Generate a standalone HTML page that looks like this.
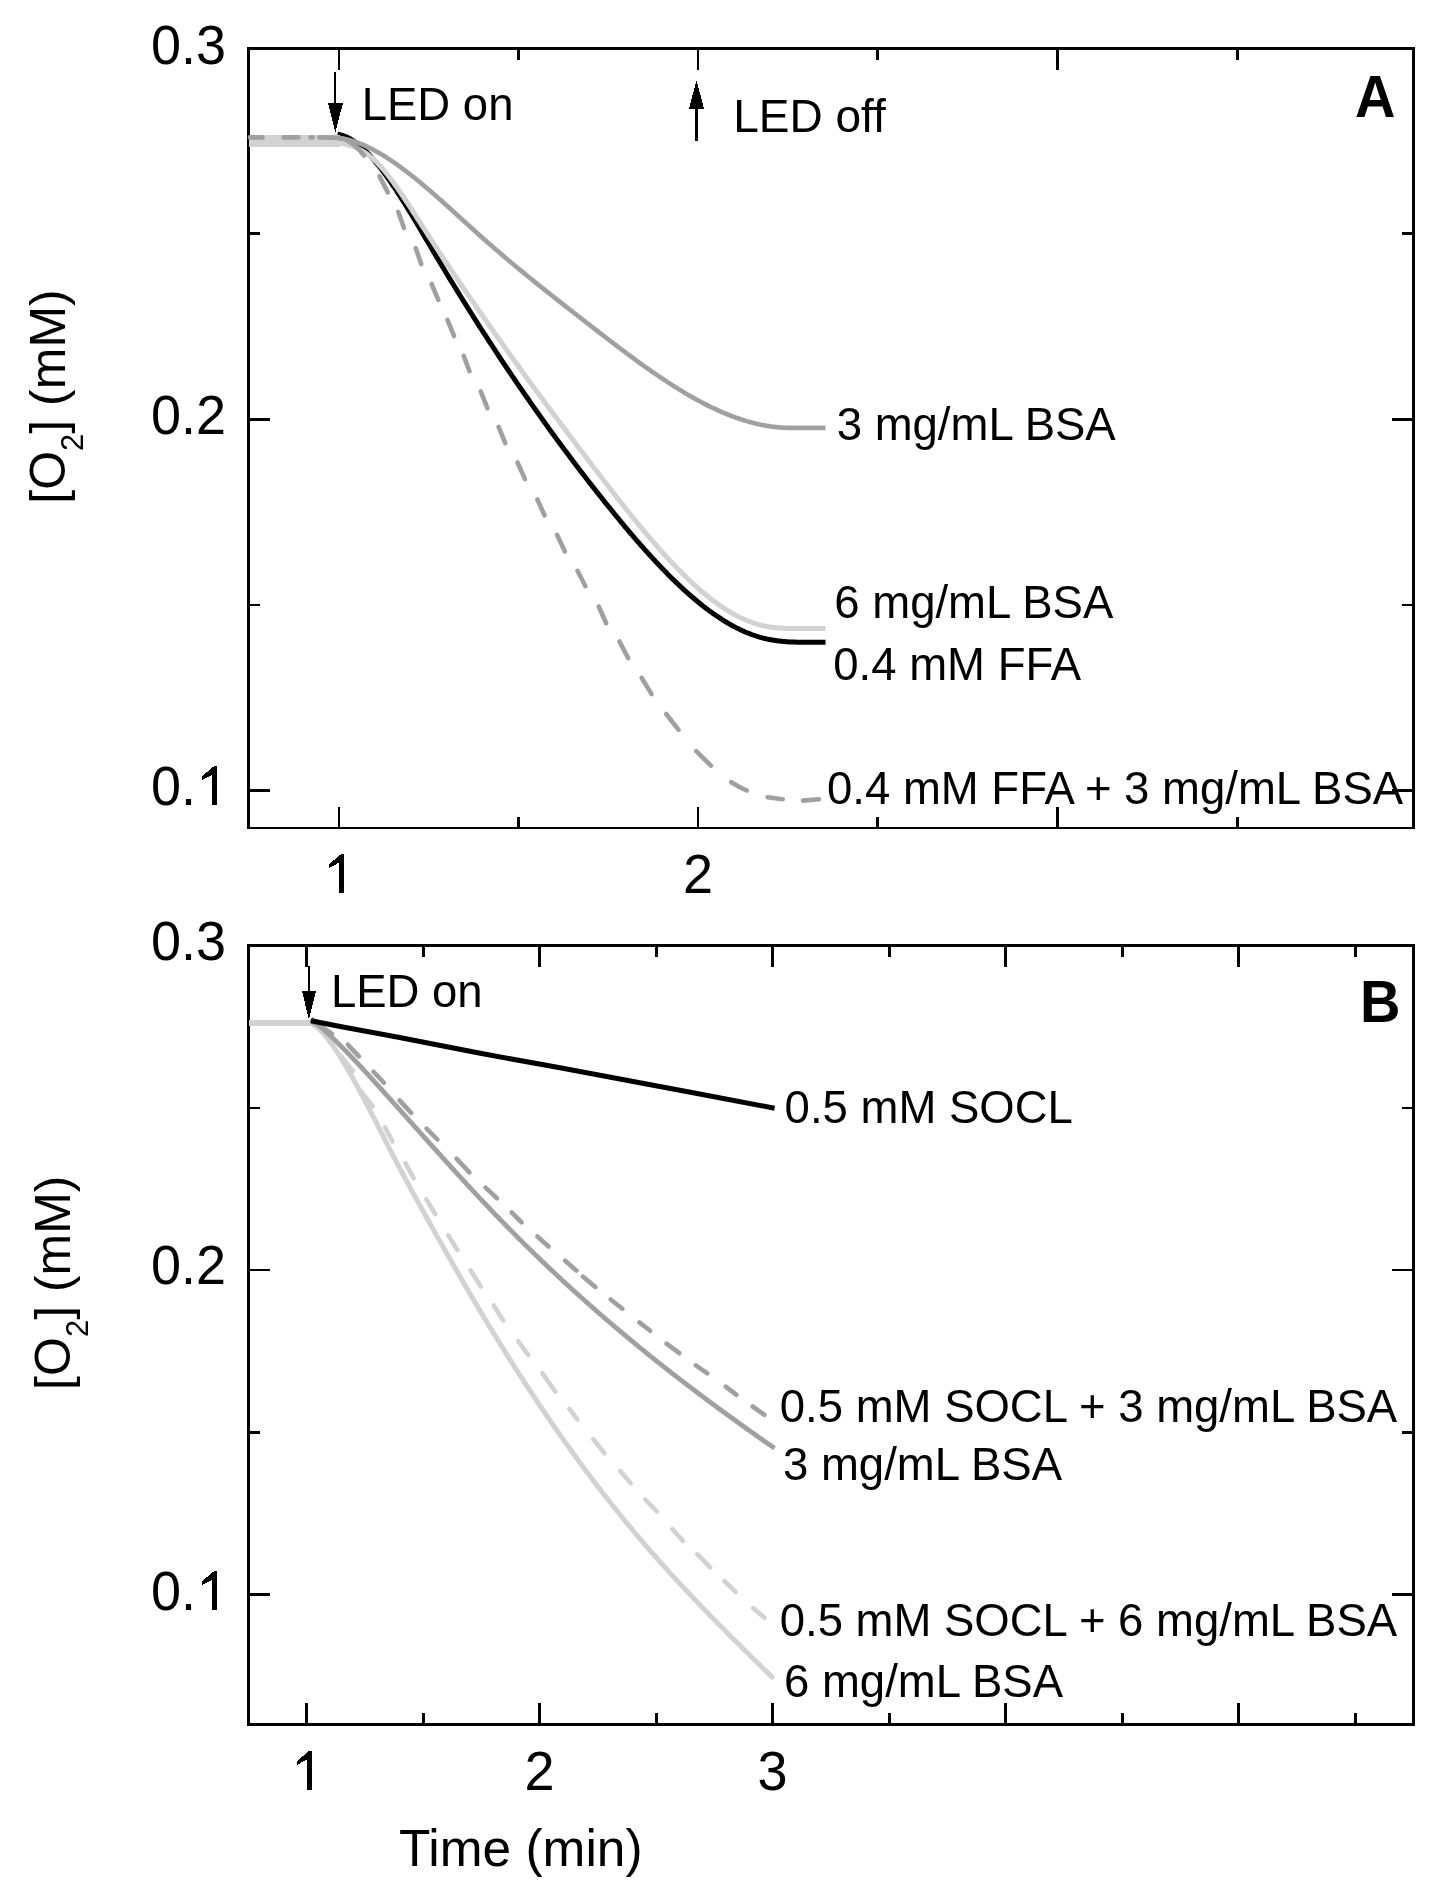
<!DOCTYPE html>
<html><head><meta charset="utf-8"><style>
html,body{margin:0;padding:0;background:#fff;}
svg{display:block;will-change:transform;}
line,rect,polygon{shape-rendering:crispEdges;}
text{font-family:"Liberation Sans", sans-serif;}
</style></head><body>
<svg width="1443" height="1898" viewBox="0 0 1443 1898">
<rect width="1443" height="1898" fill="#fff"/>
<line x1="248.5" y1="47.0" x2="248.5" y2="829.0" stroke="#000" stroke-width="3"/>
<line x1="1413.5" y1="47.0" x2="1413.5" y2="829.0" stroke="#000" stroke-width="3"/>
<line x1="247.0" y1="48.5" x2="1415.0" y2="48.5" stroke="#000" stroke-width="3"/>
<line x1="247.0" y1="828" x2="1415.0" y2="828" stroke="#000" stroke-width="2"/>
<line x1="248.5" y1="48.5" x2="270.0" y2="48.5" stroke="#000" stroke-width="3"/>
<line x1="1413.5" y1="48.5" x2="1392.0" y2="48.5" stroke="#000" stroke-width="3"/>
<line x1="248.5" y1="419.5" x2="270.0" y2="419.5" stroke="#000" stroke-width="3"/>
<line x1="1413.5" y1="419.5" x2="1392.0" y2="419.5" stroke="#000" stroke-width="3"/>
<line x1="248.5" y1="790.5" x2="270.0" y2="790.5" stroke="#000" stroke-width="3"/>
<line x1="1413.5" y1="790.5" x2="1392.0" y2="790.5" stroke="#000" stroke-width="3"/>
<line x1="248.5" y1="233.5" x2="260.0" y2="233.5" stroke="#000" stroke-width="3"/>
<line x1="1413.5" y1="233.5" x2="1402.0" y2="233.5" stroke="#000" stroke-width="3"/>
<line x1="248.5" y1="605" x2="260.0" y2="605" stroke="#000" stroke-width="2"/>
<line x1="1413.5" y1="605" x2="1402.0" y2="605" stroke="#000" stroke-width="2"/>
<line x1="339" y1="828" x2="339" y2="806.5" stroke="#000" stroke-width="2"/>
<line x1="339" y1="48.5" x2="339" y2="70.0" stroke="#000" stroke-width="2"/>
<line x1="698" y1="828" x2="698" y2="806.5" stroke="#000" stroke-width="2"/>
<line x1="698" y1="48.5" x2="698" y2="70.0" stroke="#000" stroke-width="2"/>
<line x1="1057.5" y1="828" x2="1057.5" y2="806.5" stroke="#000" stroke-width="3"/>
<line x1="1057.5" y1="48.5" x2="1057.5" y2="70.0" stroke="#000" stroke-width="3"/>
<line x1="518.5" y1="828" x2="518.5" y2="816.5" stroke="#000" stroke-width="3"/>
<line x1="518.5" y1="48.5" x2="518.5" y2="60.0" stroke="#000" stroke-width="3"/>
<line x1="877.5" y1="828" x2="877.5" y2="816.5" stroke="#000" stroke-width="3"/>
<line x1="877.5" y1="48.5" x2="877.5" y2="60.0" stroke="#000" stroke-width="3"/>
<line x1="1237.5" y1="828" x2="1237.5" y2="816.5" stroke="#000" stroke-width="3"/>
<line x1="1237.5" y1="48.5" x2="1237.5" y2="60.0" stroke="#000" stroke-width="3"/>
<line x1="248.5" y1="944.0" x2="248.5" y2="1726.0" stroke="#000" stroke-width="3"/>
<line x1="1413.5" y1="944.0" x2="1413.5" y2="1726.0" stroke="#000" stroke-width="3"/>
<line x1="247.0" y1="945.5" x2="1415.0" y2="945.5" stroke="#000" stroke-width="3"/>
<line x1="247.0" y1="1724.5" x2="1415.0" y2="1724.5" stroke="#000" stroke-width="3"/>
<line x1="248.5" y1="945.5" x2="270.0" y2="945.5" stroke="#000" stroke-width="3"/>
<line x1="1413.5" y1="945.5" x2="1392.0" y2="945.5" stroke="#000" stroke-width="3"/>
<line x1="248.5" y1="1270" x2="270.0" y2="1270" stroke="#000" stroke-width="2"/>
<line x1="1413.5" y1="1270" x2="1392.0" y2="1270" stroke="#000" stroke-width="2"/>
<line x1="248.5" y1="1594.5" x2="270.0" y2="1594.5" stroke="#000" stroke-width="3"/>
<line x1="1413.5" y1="1594.5" x2="1392.0" y2="1594.5" stroke="#000" stroke-width="3"/>
<line x1="248.5" y1="1108" x2="260.0" y2="1108" stroke="#000" stroke-width="2"/>
<line x1="1413.5" y1="1108" x2="1402.0" y2="1108" stroke="#000" stroke-width="2"/>
<line x1="248.5" y1="1432.5" x2="260.0" y2="1432.5" stroke="#000" stroke-width="3"/>
<line x1="1413.5" y1="1432.5" x2="1402.0" y2="1432.5" stroke="#000" stroke-width="3"/>
<line x1="306.5" y1="1724.5" x2="306.5" y2="1703.0" stroke="#000" stroke-width="3"/>
<line x1="306.5" y1="945.5" x2="306.5" y2="967.0" stroke="#000" stroke-width="3"/>
<line x1="539.5" y1="1724.5" x2="539.5" y2="1703.0" stroke="#000" stroke-width="3"/>
<line x1="539.5" y1="945.5" x2="539.5" y2="967.0" stroke="#000" stroke-width="3"/>
<line x1="772.5" y1="1724.5" x2="772.5" y2="1703.0" stroke="#000" stroke-width="3"/>
<line x1="772.5" y1="945.5" x2="772.5" y2="967.0" stroke="#000" stroke-width="3"/>
<line x1="1005.5" y1="1724.5" x2="1005.5" y2="1703.0" stroke="#000" stroke-width="3"/>
<line x1="1005.5" y1="945.5" x2="1005.5" y2="967.0" stroke="#000" stroke-width="3"/>
<line x1="1238.5" y1="1724.5" x2="1238.5" y2="1703.0" stroke="#000" stroke-width="3"/>
<line x1="1238.5" y1="945.5" x2="1238.5" y2="967.0" stroke="#000" stroke-width="3"/>
<line x1="423.0" y1="1724.5" x2="423.0" y2="1713.0" stroke="#000" stroke-width="3"/>
<line x1="423.0" y1="945.5" x2="423.0" y2="957.0" stroke="#000" stroke-width="3"/>
<line x1="656.0" y1="1724.5" x2="656.0" y2="1713.0" stroke="#000" stroke-width="3"/>
<line x1="656.0" y1="945.5" x2="656.0" y2="957.0" stroke="#000" stroke-width="3"/>
<line x1="889.0" y1="1724.5" x2="889.0" y2="1713.0" stroke="#000" stroke-width="3"/>
<line x1="889.0" y1="945.5" x2="889.0" y2="957.0" stroke="#000" stroke-width="3"/>
<line x1="1122.0" y1="1724.5" x2="1122.0" y2="1713.0" stroke="#000" stroke-width="3"/>
<line x1="1122.0" y1="945.5" x2="1122.0" y2="957.0" stroke="#000" stroke-width="3"/>
<line x1="1355.0" y1="1724.5" x2="1355.0" y2="1713.0" stroke="#000" stroke-width="3"/>
<line x1="1355.0" y1="945.5" x2="1355.0" y2="957.0" stroke="#000" stroke-width="3"/>
<path d="M337.5,134.1 L339.0,134.4 L340.5,134.8 L342.0,135.2 L343.5,135.7 L345.0,136.3 L346.5,136.9 L348.0,137.7 L349.5,138.5 L351.0,139.3 L352.5,140.3 L354.0,141.3 L355.5,142.3 L357.0,143.4 L358.5,144.6 L360.0,145.9 L361.5,147.2 L363.0,148.5 L364.5,149.9 L366.0,151.4 L367.5,152.9 L369.0,154.5 L370.5,156.1 L372.0,157.8 L373.5,159.5 L375.0,161.3 L376.5,163.1 L378.0,164.9 L379.5,166.8 L381.0,168.8 L382.5,170.7 L384.0,172.7 L385.5,174.8 L387.0,176.9 L388.5,179.0 L390.0,181.1 L391.5,183.3 L393.0,185.5 L394.5,187.7 L396.0,190.0 L397.5,192.3 L399.0,194.6 L400.5,196.9 L402.0,199.3 L403.5,201.6 L405.0,204.0 L406.5,206.5 L408.0,208.9 L409.5,211.3 L411.0,213.8 L412.5,216.3 L414.0,218.8 L415.5,221.3 L417.0,223.8 L418.5,226.3 L420.0,228.8 L421.5,231.3 L423.0,233.9 L424.5,236.4 L426.0,239.0 L427.5,241.5 L429.0,244.0 L430.5,246.6 L432.0,249.1 L433.5,251.6 L435.0,254.2 L436.5,256.7 L438.0,259.2 L439.5,261.7 L441.0,264.2 L442.5,266.7 L444.0,269.2 L445.5,271.7 L447.0,274.2 L448.5,276.6 L450.0,279.1 L451.5,281.6 L453.0,284.0 L454.5,286.5 L456.0,288.9 L457.5,291.3 L459.0,293.8 L460.5,296.2 L462.0,298.6 L463.5,301.0 L465.0,303.4 L466.5,305.8 L468.0,308.2 L469.5,310.6 L471.0,313.0 L472.5,315.3 L474.0,317.7 L475.5,320.1 L477.0,322.4 L478.5,324.8 L480.0,327.1 L481.5,329.5 L483.0,331.8 L484.5,334.1 L486.0,336.4 L487.5,338.7 L489.0,341.1 L490.5,343.4 L492.0,345.7 L493.5,347.9 L495.0,350.2 L496.5,352.5 L498.0,354.8 L499.5,357.0 L501.0,359.3 L502.5,361.6 L504.0,363.8 L505.5,366.0 L507.0,368.3 L508.5,370.5 L510.0,372.7 L511.5,375.0 L513.0,377.2 L514.5,379.4 L516.0,381.6 L517.5,383.8 L519.0,386.0 L520.5,388.2 L522.0,390.3 L523.5,392.5 L525.0,394.7 L526.5,396.8 L528.0,399.0 L529.5,401.1 L531.0,403.3 L532.5,405.4 L534.0,407.6 L535.5,409.7 L537.0,411.8 L538.5,413.9 L540.0,416.0 L541.5,418.1 L543.0,420.2 L544.5,422.3 L546.0,424.4 L547.5,426.5 L549.0,428.6 L550.5,430.7 L552.0,432.7 L553.5,434.8 L555.0,436.8 L556.5,438.9 L558.0,440.9 L559.5,443.0 L561.0,445.0 L562.5,447.0 L564.0,449.1 L565.5,451.1 L567.0,453.1 L568.5,455.1 L570.0,457.1 L571.5,459.1 L573.0,461.1 L574.5,463.0 L576.0,465.0 L577.5,467.0 L579.0,469.0 L580.5,470.9 L582.0,472.9 L583.5,474.8 L585.0,476.8 L586.5,478.7 L588.0,480.7 L589.5,482.6 L591.0,484.5 L592.5,486.4 L594.0,488.3 L595.5,490.2 L597.0,492.1 L598.5,494.0 L600.0,495.9 L601.5,497.8 L603.0,499.7 L604.5,501.6 L606.0,503.5 L607.5,505.3 L609.0,507.2 L610.5,509.0 L612.0,510.9 L613.5,512.7 L615.0,514.6 L616.5,516.4 L618.0,518.2 L619.5,520.0 L621.0,521.9 L622.5,523.7 L624.0,525.5 L625.5,527.3 L627.0,529.0 L628.5,530.8 L630.0,532.6 L631.5,534.4 L633.0,536.1 L634.5,537.9 L636.0,539.6 L637.5,541.3 L639.0,543.0 L640.5,544.8 L642.0,546.5 L643.5,548.2 L645.0,549.8 L646.5,551.5 L648.0,553.2 L649.5,554.8 L651.0,556.5 L652.5,558.1 L654.0,559.7 L655.5,561.4 L657.0,563.0 L658.5,564.6 L660.0,566.1 L661.5,567.7 L663.0,569.3 L664.5,570.8 L666.0,572.3 L667.5,573.9 L669.0,575.4 L670.5,576.9 L672.0,578.4 L673.5,579.8 L675.0,581.3 L676.5,582.7 L678.0,584.2 L679.5,585.6 L681.0,587.0 L682.5,588.4 L684.0,589.8 L685.5,591.1 L687.0,592.5 L688.5,593.8 L690.0,595.2 L691.5,596.5 L693.0,597.7 L694.5,599.0 L696.0,600.3 L697.5,601.5 L699.0,602.8 L700.5,604.0 L702.0,605.2 L703.5,606.4 L705.0,607.5 L706.5,608.7 L708.0,609.8 L709.5,610.9 L711.0,612.0 L712.5,613.1 L714.0,614.1 L715.5,615.2 L717.0,616.2 L718.5,617.2 L720.0,618.2 L721.5,619.2 L723.0,620.1 L724.5,621.1 L726.0,622.0 L727.5,622.9 L729.0,623.8 L730.5,624.6 L732.0,625.5 L733.5,626.3 L735.0,627.1 L736.5,627.9 L738.0,628.6 L739.5,629.3 L741.0,630.1 L742.5,630.8 L744.0,631.4 L745.5,632.1 L747.0,632.7 L748.5,633.3 L750.0,633.9 L751.5,634.5 L753.0,635.0 L754.5,635.5 L756.0,636.0 L757.5,636.5 L759.0,637.0 L760.5,637.4 L762.0,637.8 L763.5,638.2 L765.0,638.5 L766.5,638.9 L768.0,639.2 L769.5,639.5 L771.0,639.8 L772.5,640.1 L774.0,640.3 L775.5,640.5 L777.0,640.7 L778.5,640.9 L780.0,641.1 L781.5,641.3 L783.0,641.4 L784.5,641.5 L786.0,641.7 L787.5,641.8 L789.0,641.9 L790.5,641.9 L792.0,642.0 L793.5,642.1 L795.0,642.1 L796.5,642.2 L798.0,642.2 L799.5,642.2 L801.0,642.2 L802.5,642.3 L804.0,642.3 L805.5,642.3 L807.0,642.3 L808.5,642.3 L810.0,642.3 L811.5,642.3 L813.0,642.3 L814.5,642.3 L816.0,642.3 L817.5,642.3 L819.0,642.3 L820.5,642.3 L822.0,642.3 L823.5,642.3 L825.0,642.3 L825.5,642.3" stroke="#000" stroke-width="5" fill="none" stroke-linejoin="round"/>
<path d="M317.0,137.8 L318.5,137.8 L320.0,137.8 L321.5,137.8 L323.0,137.8 L324.5,137.8 L326.0,137.8 L327.5,137.8 L329.0,137.8 L330.5,137.8 L332.0,137.8 L333.5,137.8 L335.0,137.8 L336.5,137.8 L338.0,137.8 L339.5,137.9 L341.0,138.2 L342.5,138.4 L344.0,138.7 L345.5,139.0 L347.0,139.4 L348.5,139.8 L350.0,140.2 L351.5,140.6 L353.0,141.1 L354.5,141.6 L356.0,142.1 L357.5,142.6 L359.0,143.2 L360.5,143.8 L362.0,144.4 L363.5,145.0 L365.0,145.7 L366.5,146.4 L368.0,147.1 L369.5,147.8 L371.0,148.6 L372.5,149.3 L374.0,150.1 L375.5,151.0 L377.0,151.8 L378.5,152.6 L380.0,153.5 L381.5,154.4 L383.0,155.3 L384.5,156.2 L386.0,157.2 L387.5,158.1 L389.0,159.1 L390.5,160.1 L392.0,161.1 L393.5,162.1 L395.0,163.2 L396.5,164.2 L398.0,165.3 L399.5,166.4 L401.0,167.5 L402.5,168.6 L404.0,169.7 L405.5,170.8 L407.0,172.0 L408.5,173.1 L410.0,174.3 L411.5,175.5 L413.0,176.6 L414.5,177.8 L416.0,179.0 L417.5,180.3 L419.0,181.5 L420.5,182.7 L422.0,184.0 L423.5,185.2 L425.0,186.5 L426.5,187.8 L428.0,189.0 L429.5,190.3 L431.0,191.6 L432.5,192.9 L434.0,194.2 L435.5,195.5 L437.0,196.9 L438.5,198.2 L440.0,199.5 L441.5,200.8 L443.0,202.2 L444.5,203.5 L446.0,204.9 L447.5,206.2 L449.0,207.6 L450.5,208.9 L452.0,210.3 L453.5,211.6 L455.0,213.0 L456.5,214.4 L458.0,215.7 L459.5,217.1 L461.0,218.4 L462.5,219.8 L464.0,221.2 L465.5,222.5 L467.0,223.9 L468.5,225.3 L470.0,226.6 L471.5,228.0 L473.0,229.3 L474.5,230.7 L476.0,232.0 L477.5,233.4 L479.0,234.7 L480.5,236.1 L482.0,237.4 L483.5,238.7 L485.0,240.1 L486.5,241.4 L488.0,242.7 L489.5,244.0 L491.0,245.3 L492.5,246.6 L494.0,247.9 L495.5,249.2 L497.0,250.5 L498.5,251.8 L500.0,253.1 L501.5,254.4 L503.0,255.6 L504.5,256.9 L506.0,258.2 L507.5,259.4 L509.0,260.7 L510.5,262.0 L512.0,263.2 L513.5,264.5 L515.0,265.7 L516.5,267.0 L518.0,268.2 L519.5,269.4 L521.0,270.7 L522.5,271.9 L524.0,273.1 L525.5,274.4 L527.0,275.6 L528.5,276.8 L530.0,278.0 L531.5,279.2 L533.0,280.4 L534.5,281.7 L536.0,282.9 L537.5,284.1 L539.0,285.3 L540.5,286.5 L542.0,287.7 L543.5,288.9 L545.0,290.1 L546.5,291.3 L548.0,292.4 L549.5,293.6 L551.0,294.8 L552.5,296.0 L554.0,297.2 L555.5,298.4 L557.0,299.6 L558.5,300.7 L560.0,301.9 L561.5,303.1 L563.0,304.3 L564.5,305.4 L566.0,306.6 L567.5,307.8 L569.0,309.0 L570.5,310.1 L572.0,311.3 L573.5,312.5 L575.0,313.6 L576.5,314.8 L578.0,316.0 L579.5,317.1 L581.0,318.3 L582.5,319.5 L584.0,320.6 L585.5,321.8 L587.0,323.0 L588.5,324.1 L590.0,325.3 L591.5,326.5 L593.0,327.6 L594.5,328.8 L596.0,329.9 L597.5,331.1 L599.0,332.3 L600.5,333.4 L602.0,334.6 L603.5,335.7 L605.0,336.9 L606.5,338.0 L608.0,339.2 L609.5,340.3 L611.0,341.5 L612.5,342.6 L614.0,343.8 L615.5,344.9 L617.0,346.1 L618.5,347.2 L620.0,348.3 L621.5,349.5 L623.0,350.6 L624.5,351.7 L626.0,352.8 L627.5,354.0 L629.0,355.1 L630.5,356.2 L632.0,357.3 L633.5,358.4 L635.0,359.5 L636.5,360.6 L638.0,361.7 L639.5,362.8 L641.0,363.8 L642.5,364.9 L644.0,366.0 L645.5,367.1 L647.0,368.1 L648.5,369.2 L650.0,370.2 L651.5,371.3 L653.0,372.3 L654.5,373.4 L656.0,374.4 L657.5,375.4 L659.0,376.4 L660.5,377.4 L662.0,378.4 L663.5,379.4 L665.0,380.4 L666.5,381.4 L668.0,382.4 L669.5,383.4 L671.0,384.3 L672.5,385.3 L674.0,386.3 L675.5,387.2 L677.0,388.1 L678.5,389.1 L680.0,390.0 L681.5,390.9 L683.0,391.8 L684.5,392.7 L686.0,393.6 L687.5,394.5 L689.0,395.3 L690.5,396.2 L692.0,397.1 L693.5,397.9 L695.0,398.7 L696.5,399.6 L698.0,400.4 L699.5,401.2 L701.0,402.0 L702.5,402.8 L704.0,403.6 L705.5,404.3 L707.0,405.1 L708.5,405.8 L710.0,406.6 L711.5,407.3 L713.0,408.0 L714.5,408.7 L716.0,409.4 L717.5,410.1 L719.0,410.8 L720.5,411.5 L722.0,412.1 L723.5,412.8 L725.0,413.4 L726.5,414.0 L728.0,414.6 L729.5,415.2 L731.0,415.8 L732.5,416.4 L734.0,416.9 L735.5,417.5 L737.0,418.0 L738.5,418.5 L740.0,419.0 L741.5,419.5 L743.0,420.0 L744.5,420.5 L746.0,420.9 L747.5,421.4 L749.0,421.8 L750.5,422.2 L752.0,422.6 L753.5,423.0 L755.0,423.4 L756.5,423.8 L758.0,424.1 L759.5,424.4 L761.0,424.8 L762.5,425.1 L764.0,425.3 L765.5,425.6 L767.0,425.9 L768.5,426.1 L770.0,426.3 L771.5,426.6 L773.0,426.8 L774.5,426.9 L776.0,427.1 L777.5,427.3 L779.0,427.4 L780.5,427.5 L782.0,427.6 L783.5,427.7 L785.0,427.8 L786.5,427.8 L788.0,427.9 L789.5,427.9 L791.0,427.9 L792.5,427.9 L794.0,427.9 L795.5,427.9 L797.0,427.9 L798.5,427.9 L800.0,427.9 L801.5,427.9 L803.0,427.9 L804.5,427.9 L806.0,427.9 L807.5,427.9 L809.0,427.9 L810.5,427.9 L812.0,427.9 L813.5,427.9 L815.0,427.9 L816.5,427.9 L818.0,427.9 L819.5,427.9 L821.0,427.9 L822.5,427.9 L824.0,427.9 L825.5,427.9" stroke="#a0a0a0" stroke-width="4.6" fill="none" stroke-linejoin="round"/>
<rect x="249" y="135" width="91" height="12" fill="#d2d2d2"/>
<path d="M338.0,142.9 L339.5,143.1 L341.0,143.3 L342.5,143.6 L344.0,143.9 L345.5,144.2 L347.0,144.6 L348.5,145.0 L350.0,145.5 L351.5,146.0 L353.0,146.5 L354.5,147.1 L356.0,147.7 L357.5,148.4 L359.0,149.1 L360.5,149.9 L362.0,150.7 L363.5,151.6 L365.0,152.6 L366.5,153.6 L368.0,154.7 L369.5,155.9 L371.0,157.1 L372.5,158.4 L374.0,159.7 L375.5,161.1 L377.0,162.6 L378.5,164.2 L380.0,165.8 L381.5,167.5 L383.0,169.2 L384.5,171.0 L386.0,172.8 L387.5,174.7 L389.0,176.6 L390.5,178.5 L392.0,180.6 L393.5,182.6 L395.0,184.7 L396.5,186.8 L398.0,188.9 L399.5,191.1 L401.0,193.3 L402.5,195.5 L404.0,197.8 L405.5,200.0 L407.0,202.3 L408.5,204.6 L410.0,206.9 L411.5,209.2 L413.0,211.6 L414.5,213.9 L416.0,216.2 L417.5,218.6 L419.0,220.9 L420.5,223.2 L422.0,225.6 L423.5,227.9 L425.0,230.2 L426.5,232.5 L428.0,234.8 L429.5,237.1 L431.0,239.4 L432.5,241.7 L434.0,244.0 L435.5,246.3 L437.0,248.6 L438.5,250.8 L440.0,253.1 L441.5,255.4 L443.0,257.6 L444.5,259.9 L446.0,262.1 L447.5,264.4 L449.0,266.6 L450.5,268.9 L452.0,271.1 L453.5,273.3 L455.0,275.6 L456.5,277.8 L458.0,280.0 L459.5,282.2 L461.0,284.4 L462.5,286.6 L464.0,288.8 L465.5,291.0 L467.0,293.2 L468.5,295.4 L470.0,297.6 L471.5,299.8 L473.0,302.0 L474.5,304.2 L476.0,306.3 L477.5,308.5 L479.0,310.7 L480.5,312.8 L482.0,315.0 L483.5,317.1 L485.0,319.3 L486.5,321.4 L488.0,323.6 L489.5,325.7 L491.0,327.9 L492.5,330.0 L494.0,332.1 L495.5,334.2 L497.0,336.4 L498.5,338.5 L500.0,340.6 L501.5,342.7 L503.0,344.8 L504.5,346.9 L506.0,349.0 L507.5,351.1 L509.0,353.2 L510.5,355.3 L512.0,357.4 L513.5,359.5 L515.0,361.6 L516.5,363.7 L518.0,365.7 L519.5,367.8 L521.0,369.9 L522.5,371.9 L524.0,374.0 L525.5,376.1 L527.0,378.1 L528.5,380.2 L530.0,382.3 L531.5,384.3 L533.0,386.4 L534.5,388.4 L536.0,390.4 L537.5,392.5 L539.0,394.5 L540.5,396.6 L542.0,398.6 L543.5,400.6 L545.0,402.7 L546.5,404.7 L548.0,406.7 L549.5,408.7 L551.0,410.7 L552.5,412.8 L554.0,414.8 L555.5,416.8 L557.0,418.8 L558.5,420.8 L560.0,422.8 L561.5,424.8 L563.0,426.8 L564.5,428.8 L566.0,430.8 L567.5,432.8 L569.0,434.8 L570.5,436.8 L572.0,438.8 L573.5,440.7 L575.0,442.7 L576.5,444.7 L578.0,446.7 L579.5,448.7 L581.0,450.6 L582.5,452.6 L584.0,454.6 L585.5,456.6 L587.0,458.5 L588.5,460.5 L590.0,462.5 L591.5,464.4 L593.0,466.4 L594.5,468.4 L596.0,470.3 L597.5,472.3 L599.0,474.2 L600.5,476.2 L602.0,478.1 L603.5,480.1 L605.0,482.0 L606.5,484.0 L608.0,485.9 L609.5,487.9 L611.0,489.8 L612.5,491.7 L614.0,493.7 L615.5,495.6 L617.0,497.5 L618.5,499.4 L620.0,501.3 L621.5,503.2 L623.0,505.1 L624.5,507.0 L626.0,508.9 L627.5,510.8 L629.0,512.7 L630.5,514.5 L632.0,516.4 L633.5,518.3 L635.0,520.1 L636.5,522.0 L638.0,523.8 L639.5,525.6 L641.0,527.4 L642.5,529.3 L644.0,531.1 L645.5,532.9 L647.0,534.6 L648.5,536.4 L650.0,538.2 L651.5,539.9 L653.0,541.7 L654.5,543.4 L656.0,545.1 L657.5,546.9 L659.0,548.6 L660.5,550.2 L662.0,551.9 L663.5,553.6 L665.0,555.3 L666.5,556.9 L668.0,558.5 L669.5,560.1 L671.0,561.7 L672.5,563.3 L674.0,564.9 L675.5,566.5 L677.0,568.0 L678.5,569.6 L680.0,571.1 L681.5,572.6 L683.0,574.1 L684.5,575.6 L686.0,577.0 L687.5,578.5 L689.0,579.9 L690.5,581.3 L692.0,582.7 L693.5,584.1 L695.0,585.5 L696.5,586.8 L698.0,588.2 L699.5,589.5 L701.0,590.8 L702.5,592.0 L704.0,593.3 L705.5,594.5 L707.0,595.8 L708.5,597.0 L710.0,598.2 L711.5,599.3 L713.0,600.5 L714.5,601.6 L716.0,602.7 L717.5,603.8 L719.0,604.8 L720.5,605.9 L722.0,606.9 L723.5,607.9 L725.0,608.9 L726.5,609.8 L728.0,610.8 L729.5,611.7 L731.0,612.6 L732.5,613.4 L734.0,614.3 L735.5,615.1 L737.0,615.9 L738.5,616.7 L740.0,617.4 L741.5,618.1 L743.0,618.8 L744.5,619.5 L746.0,620.2 L747.5,620.8 L749.0,621.4 L750.5,621.9 L752.0,622.5 L753.5,623.0 L755.0,623.5 L756.5,624.0 L758.0,624.4 L759.5,624.8 L761.0,625.2 L762.5,625.6 L764.0,625.9 L765.5,626.2 L767.0,626.5 L768.5,626.7 L770.0,627.0 L771.5,627.2 L773.0,627.4 L774.5,627.6 L776.0,627.7 L777.5,627.9 L779.0,628.0 L780.5,628.1 L782.0,628.2 L783.5,628.3 L785.0,628.3 L786.5,628.4 L788.0,628.4 L789.5,628.5 L791.0,628.5 L792.5,628.5 L794.0,628.5 L795.5,628.5 L797.0,628.5 L798.5,628.5 L800.0,628.5 L801.5,628.5 L803.0,628.5 L804.5,628.5 L806.0,628.5 L807.5,628.5 L809.0,628.5 L810.5,628.5 L812.0,628.5 L813.5,628.5 L815.0,628.5 L816.5,628.5 L818.0,628.5 L819.5,628.5 L821.0,628.5 L822.5,628.5 L824.0,628.5 L825.5,628.5" stroke="#d2d2d2" stroke-width="5" fill="none" stroke-linejoin="round"/>
<path d="M250.0,137.4 L262.5,137.4" stroke="#a0a0a0" stroke-width="4.6" fill="none" stroke-linecap="round" stroke-linejoin="round"/>
<path d="M283.5,137.4 L298.5,137.4" stroke="#a0a0a0" stroke-width="4.6" fill="none" stroke-linecap="round" stroke-linejoin="round"/>
<path d="M310.5,137.4 L312.5,137.4" stroke="#a0a0a0" stroke-width="4.6" fill="none" stroke-linecap="round" stroke-linejoin="round"/>
<path d="M319.5,137.4 L335.0,137.6 L345.0,139.2 L353.0,144.0 L359.5,150.0 L364.0,155.5" stroke="#a0a0a0" stroke-width="4.6" fill="none" stroke-linecap="round" stroke-linejoin="round"/>
<path d="M379.5,176.4 L387.8,192.4" stroke="#a0a0a0" stroke-width="4.6" fill="none" stroke-linecap="round" stroke-linejoin="round"/>
<path d="M398.3,212.0 L404.0,228.0" stroke="#a0a0a0" stroke-width="4.6" fill="none" stroke-linecap="round" stroke-linejoin="round"/>
<path d="M415.8,248.3 L421.2,264.1" stroke="#a0a0a0" stroke-width="4.6" fill="none" stroke-linecap="round" stroke-linejoin="round"/>
<path d="M431.6,284.0 L438.3,299.8" stroke="#a0a0a0" stroke-width="4.6" fill="none" stroke-linecap="round" stroke-linejoin="round"/>
<path d="M447.4,319.8 L454.1,336.0" stroke="#a0a0a0" stroke-width="4.6" fill="none" stroke-linecap="round" stroke-linejoin="round"/>
<path d="M463.7,355.8 L469.5,371.2" stroke="#a0a0a0" stroke-width="4.6" fill="none" stroke-linecap="round" stroke-linejoin="round"/>
<path d="M480.8,391.5 L487.4,408.2" stroke="#a0a0a0" stroke-width="4.6" fill="none" stroke-linecap="round" stroke-linejoin="round"/>
<path d="M498.6,426.9 L505.3,443.1" stroke="#a0a0a0" stroke-width="4.6" fill="none" stroke-linecap="round" stroke-linejoin="round"/>
<path d="M517.5,462.5 L525.0,479.1" stroke="#a0a0a0" stroke-width="4.6" fill="none" stroke-linecap="round" stroke-linejoin="round"/>
<path d="M537.4,499.5 L544.5,515.3" stroke="#a0a0a0" stroke-width="4.6" fill="none" stroke-linecap="round" stroke-linejoin="round"/>
<path d="M557.0,534.8 L564.9,551.4" stroke="#a0a0a0" stroke-width="4.6" fill="none" stroke-linecap="round" stroke-linejoin="round"/>
<path d="M577.5,570.8 L585.4,586.2" stroke="#a0a0a0" stroke-width="4.6" fill="none" stroke-linecap="round" stroke-linejoin="round"/>
<path d="M598.7,606.5 L606.2,623.2" stroke="#a0a0a0" stroke-width="4.6" fill="none" stroke-linecap="round" stroke-linejoin="round"/>
<path d="M619.5,641.5 L628.2,658.1" stroke="#a0a0a0" stroke-width="4.6" fill="none" stroke-linecap="round" stroke-linejoin="round"/>
<path d="M641.6,677.8 L651.6,694.1" stroke="#a0a0a0" stroke-width="4.6" fill="none" stroke-linecap="round" stroke-linejoin="round"/>
<path d="M666.2,714.0 L678.6,729.8" stroke="#a0a0a0" stroke-width="4.6" fill="none" stroke-linecap="round" stroke-linejoin="round"/>
<path d="M696.3,751.2 L710.9,765.7" stroke="#a0a0a0" stroke-width="4.6" fill="none" stroke-linecap="round" stroke-linejoin="round"/>
<path d="M731.2,782.2 L739.0,786.8 L746.8,790.5" stroke="#a0a0a0" stroke-width="4.6" fill="none" stroke-linecap="round" stroke-linejoin="round"/>
<path d="M767.6,797.2 L782.7,799.2" stroke="#a0a0a0" stroke-width="4.6" fill="none" stroke-linecap="round" stroke-linejoin="round"/>
<path d="M803.0,800.6 L819.0,799.2" stroke="#a0a0a0" stroke-width="4.6" fill="none" stroke-linecap="round" stroke-linejoin="round"/>
<rect x="249" y="1020" width="62" height="6" fill="#d2d2d2"/>
<path d="M300.0,1022.9 L301.5,1022.9 L303.0,1022.9 L304.5,1022.9 L306.0,1022.9 L307.5,1022.9 L309.0,1022.9 L310.5,1023.4 L312.0,1024.1 L313.5,1024.9 L315.0,1025.9 L316.5,1027.0 L318.0,1028.2 L319.5,1029.5 L321.0,1031.0 L322.5,1032.5 L324.0,1034.2 L325.5,1035.9 L327.0,1037.7 L328.5,1039.7 L330.0,1041.7 L331.5,1043.7 L333.0,1045.9 L334.5,1048.0 L336.0,1050.3 L337.5,1052.6 L339.0,1054.9 L340.5,1057.3 L342.0,1059.7 L343.5,1062.2 L345.0,1064.7 L346.5,1067.2 L348.0,1069.8 L349.5,1072.4 L351.0,1075.0 L352.5,1077.7 L354.0,1080.4 L355.5,1083.1 L357.0,1085.8 L358.5,1088.6 L360.0,1091.4 L361.5,1094.2 L363.0,1097.0 L364.5,1099.9 L366.0,1102.8 L367.5,1105.6 L369.0,1108.5 L370.5,1111.4 L372.0,1114.4 L373.5,1117.3 L375.0,1120.2 L376.5,1123.1 L378.0,1126.1 L379.5,1129.0 L381.0,1132.0 L382.5,1134.9 L384.0,1137.9 L385.5,1140.8 L387.0,1143.8 L388.5,1146.7 L390.0,1149.6 L391.5,1152.5 L393.0,1155.4 L394.5,1158.3 L396.0,1161.2 L397.5,1164.1 L399.0,1166.9 L400.5,1169.7 L402.0,1172.5 L403.5,1175.3 L405.0,1178.1 L406.5,1180.9 L408.0,1183.7 L409.5,1186.4 L411.0,1189.2 L412.5,1192.0 L414.0,1194.7 L415.5,1197.4 L417.0,1200.2 L418.5,1202.9 L420.0,1205.6 L421.5,1208.3 L423.0,1211.0 L424.5,1213.8 L426.0,1216.5 L427.5,1219.2 L429.0,1221.8 L430.5,1224.5 L432.0,1227.2 L433.5,1229.9 L435.0,1232.6 L436.5,1235.3 L438.0,1237.9 L439.5,1240.6 L441.0,1243.2 L442.5,1245.9 L444.0,1248.5 L445.5,1251.2 L447.0,1253.8 L448.5,1256.5 L450.0,1259.1 L451.5,1261.7 L453.0,1264.4 L454.5,1267.0 L456.0,1269.6 L457.5,1272.2 L459.0,1274.8 L460.5,1277.4 L462.0,1280.0 L463.5,1282.6 L465.0,1285.2 L466.5,1287.8 L468.0,1290.3 L469.5,1292.9 L471.0,1295.5 L472.5,1298.0 L474.0,1300.6 L475.5,1303.1 L477.0,1305.6 L478.5,1308.2 L480.0,1310.7 L481.5,1313.2 L483.0,1315.7 L484.5,1318.2 L486.0,1320.7 L487.5,1323.2 L489.0,1325.7 L490.5,1328.2 L492.0,1330.6 L493.5,1333.1 L495.0,1335.5 L496.5,1338.0 L498.0,1340.4 L499.5,1342.8 L501.0,1345.3 L502.5,1347.7 L504.0,1350.1 L505.5,1352.5 L507.0,1354.9 L508.5,1357.3 L510.0,1359.7 L511.5,1362.0 L513.0,1364.4 L514.5,1366.7 L516.0,1369.1 L517.5,1371.4 L519.0,1373.8 L520.5,1376.1 L522.0,1378.4 L523.5,1380.7 L525.0,1383.1 L526.5,1385.4 L528.0,1387.6 L529.5,1389.9 L531.0,1392.2 L532.5,1394.5 L534.0,1396.7 L535.5,1399.0 L537.0,1401.3 L538.5,1403.5 L540.0,1405.7 L541.5,1408.0 L543.0,1410.2 L544.5,1412.4 L546.0,1414.6 L547.5,1416.8 L549.0,1419.0 L550.5,1421.2 L552.0,1423.4 L553.5,1425.5 L555.0,1427.7 L556.5,1429.8 L558.0,1432.0 L559.5,1434.1 L561.0,1436.3 L562.5,1438.4 L564.0,1440.5 L565.5,1442.6 L567.0,1444.7 L568.5,1446.8 L570.0,1448.9 L571.5,1451.0 L573.0,1453.1 L574.5,1455.2 L576.0,1457.2 L577.5,1459.3 L579.0,1461.4 L580.5,1463.4 L582.0,1465.4 L583.5,1467.5 L585.0,1469.5 L586.5,1471.5 L588.0,1473.5 L589.5,1475.5 L591.0,1477.5 L592.5,1479.5 L594.0,1481.5 L595.5,1483.4 L597.0,1485.4 L598.5,1487.4 L600.0,1489.3 L601.5,1491.3 L603.0,1493.2 L604.5,1495.1 L606.0,1497.0 L607.5,1499.0 L609.0,1500.9 L610.5,1502.8 L612.0,1504.7 L613.5,1506.6 L615.0,1508.4 L616.5,1510.3 L618.0,1512.2 L619.5,1514.0 L621.0,1515.9 L622.5,1517.7 L624.0,1519.6 L625.5,1521.4 L627.0,1523.2 L628.5,1525.1 L630.0,1526.9 L631.5,1528.7 L633.0,1530.5 L634.5,1532.3 L636.0,1534.0 L637.5,1535.8 L639.0,1537.6 L640.5,1539.4 L642.0,1541.1 L643.5,1542.9 L645.0,1544.6 L646.5,1546.4 L648.0,1548.1 L649.5,1549.8 L651.0,1551.6 L652.5,1553.3 L654.0,1555.0 L655.5,1556.7 L657.0,1558.4 L658.5,1560.1 L660.0,1561.8 L661.5,1563.5 L663.0,1565.1 L664.5,1566.8 L666.0,1568.5 L667.5,1570.1 L669.0,1571.8 L670.5,1573.5 L672.0,1575.1 L673.5,1576.7 L675.0,1578.4 L676.5,1580.0 L678.0,1581.6 L679.5,1583.3 L681.0,1584.9 L682.5,1586.5 L684.0,1588.1 L685.5,1589.7 L687.0,1591.3 L688.5,1592.9 L690.0,1594.5 L691.5,1596.1 L693.0,1597.7 L694.5,1599.3 L696.0,1600.8 L697.5,1602.4 L699.0,1604.0 L700.5,1605.5 L702.0,1607.1 L703.5,1608.7 L705.0,1610.2 L706.5,1611.8 L708.0,1613.3 L709.5,1614.9 L711.0,1616.4 L712.5,1617.9 L714.0,1619.5 L715.5,1621.0 L717.0,1622.5 L718.5,1624.1 L720.0,1625.6 L721.5,1627.1 L723.0,1628.6 L724.5,1630.1 L726.0,1631.6 L727.5,1633.1 L729.0,1634.6 L730.5,1636.2 L732.0,1637.7 L733.5,1639.1 L735.0,1640.6 L736.5,1642.1 L738.0,1643.6 L739.5,1645.1 L741.0,1646.6 L742.5,1648.1 L744.0,1649.6 L745.5,1651.0 L747.0,1652.5 L748.5,1654.0 L750.0,1655.5 L751.5,1657.0 L753.0,1658.4 L754.5,1659.9 L756.0,1661.4 L757.5,1662.8 L759.0,1664.3 L760.5,1665.8 L762.0,1667.2 L763.5,1668.7 L765.0,1670.2 L766.5,1671.6 L768.0,1673.1 L769.5,1674.5 L771.0,1676.0 L772.1,1677.1" stroke="#d2d2d2" stroke-width="5" fill="none" stroke-linejoin="round" stroke-linecap="round"/>
<path d="M340.2,1055.0 L352.7,1071.0" stroke="#d2d2d2" stroke-width="4.6" fill="none" stroke-linecap="round" stroke-linejoin="round"/>
<path d="M361.0,1091.1 L372.8,1106.3" stroke="#d2d2d2" stroke-width="4.6" fill="none" stroke-linecap="round" stroke-linejoin="round"/>
<path d="M385.0,1127.4 L392.5,1141.5" stroke="#d2d2d2" stroke-width="4.6" fill="none" stroke-linecap="round" stroke-linejoin="round"/>
<path d="M405.4,1163.2 L413.7,1178.1" stroke="#d2d2d2" stroke-width="4.6" fill="none" stroke-linecap="round" stroke-linejoin="round"/>
<path d="M426.2,1199.1 L435.3,1214.1" stroke="#d2d2d2" stroke-width="4.6" fill="none" stroke-linecap="round" stroke-linejoin="round"/>
<path d="M448.2,1235.3 L457.4,1249.9" stroke="#d2d2d2" stroke-width="4.6" fill="none" stroke-linecap="round" stroke-linejoin="round"/>
<path d="M470.6,1270.4 L480.7,1286.5" stroke="#d2d2d2" stroke-width="4.6" fill="none" stroke-linecap="round" stroke-linejoin="round"/>
<path d="M493.7,1305.4 L503.3,1320.4" stroke="#d2d2d2" stroke-width="4.6" fill="none" stroke-linecap="round" stroke-linejoin="round"/>
<path d="M518.2,1341.2 L528.2,1354.9" stroke="#d2d2d2" stroke-width="4.6" fill="none" stroke-linecap="round" stroke-linejoin="round"/>
<path d="M542.3,1373.2 L555.2,1391.5" stroke="#d2d2d2" stroke-width="4.6" fill="none" stroke-linecap="round" stroke-linejoin="round"/>
<path d="M569.4,1408.9 L577.5,1419.6" stroke="#d2d2d2" stroke-width="4.6" fill="none" stroke-linecap="round" stroke-linejoin="round"/>
<path d="M593.2,1439.1 L604.5,1453.2" stroke="#d2d2d2" stroke-width="4.6" fill="none" stroke-linecap="round" stroke-linejoin="round"/>
<path d="M620.3,1471.1 L630.7,1483.2" stroke="#d2d2d2" stroke-width="4.6" fill="none" stroke-linecap="round" stroke-linejoin="round"/>
<path d="M645.2,1499.4 L656.9,1511.5" stroke="#d2d2d2" stroke-width="4.6" fill="none" stroke-linecap="round" stroke-linejoin="round"/>
<path d="M672.4,1529.1 L682.8,1540.7" stroke="#d2d2d2" stroke-width="4.6" fill="none" stroke-linecap="round" stroke-linejoin="round"/>
<path d="M697.3,1554.1 L710.2,1567.4" stroke="#d2d2d2" stroke-width="4.6" fill="none" stroke-linecap="round" stroke-linejoin="round"/>
<path d="M724.4,1581.1 L735.6,1591.9" stroke="#d2d2d2" stroke-width="4.6" fill="none" stroke-linecap="round" stroke-linejoin="round"/>
<path d="M753.1,1608.1 L764.5,1617.8" stroke="#d2d2d2" stroke-width="4.6" fill="none" stroke-linecap="round" stroke-linejoin="round"/>
<path d="M311.0,1018.6 L312.5,1019.9 L314.0,1021.1 L315.5,1022.4 L317.0,1023.7 L318.5,1025.0 L320.0,1026.3 L321.5,1027.7 L323.0,1029.0 L324.5,1030.4 L326.0,1031.8 L327.5,1033.2 L329.0,1034.6 L330.5,1036.0 L332.0,1037.4 L333.5,1038.8 L335.0,1040.3 L336.5,1041.8 L338.0,1043.2 L339.5,1044.7 L341.0,1046.2 L342.5,1047.7 L344.0,1049.2 L345.5,1050.7 L347.0,1052.3 L348.5,1053.8 L350.0,1055.4 L351.5,1056.9 L353.0,1058.5 L354.5,1060.1 L356.0,1061.7 L357.5,1063.2 L359.0,1064.8 L360.5,1066.4 L362.0,1068.0 L363.5,1069.7 L365.0,1071.3 L366.5,1072.9 L368.0,1074.5 L369.5,1076.2 L371.0,1077.8 L372.5,1079.5 L374.0,1081.1 L375.5,1082.8 L377.0,1084.4 L378.5,1086.1 L380.0,1087.7 L381.5,1089.4 L383.0,1091.1 L384.5,1092.8 L386.0,1094.4 L387.5,1096.1 L389.0,1097.8 L390.5,1099.4 L392.0,1101.1 L393.5,1102.8 L395.0,1104.5 L396.5,1106.2 L398.0,1107.8 L399.5,1109.5 L401.0,1111.2 L402.5,1112.9 L404.0,1114.5 L405.5,1116.2 L407.0,1117.9 L408.5,1119.6 L410.0,1121.3 L411.5,1122.9 L413.0,1124.6 L414.5,1126.3 L416.0,1128.0 L417.5,1129.7 L419.0,1131.3 L420.5,1133.0 L422.0,1134.7 L423.5,1136.4 L425.0,1138.0 L426.5,1139.7 L428.0,1141.4 L429.5,1143.1 L431.0,1144.7 L432.5,1146.4 L434.0,1148.1 L435.5,1149.7 L437.0,1151.4 L438.5,1153.1 L440.0,1154.7 L441.5,1156.4 L443.0,1158.1 L444.5,1159.7 L446.0,1161.4 L447.5,1163.0 L449.0,1164.7 L450.5,1166.3 L452.0,1168.0 L453.5,1169.6 L455.0,1171.3 L456.5,1172.9 L458.0,1174.6 L459.5,1176.2 L461.0,1177.8 L462.5,1179.5 L464.0,1181.1 L465.5,1182.7 L467.0,1184.4 L468.5,1186.0 L470.0,1187.6 L471.5,1189.2 L473.0,1190.8 L474.5,1192.4 L476.0,1194.1 L477.5,1195.7 L479.0,1197.3 L480.5,1198.9 L482.0,1200.5 L483.5,1202.1 L485.0,1203.6 L486.5,1205.2 L488.0,1206.8 L489.5,1208.4 L491.0,1210.0 L492.5,1211.5 L494.0,1213.1 L495.5,1214.7 L497.0,1216.2 L498.5,1217.8 L500.0,1219.3 L501.5,1220.9 L503.0,1222.4 L504.5,1224.0 L506.0,1225.5 L507.5,1227.0 L509.0,1228.6 L510.5,1230.1 L512.0,1231.6 L513.5,1233.1 L515.0,1234.6 L516.5,1236.1 L518.0,1237.7 L519.5,1239.2 L521.0,1240.6 L522.5,1242.1 L524.0,1243.6 L525.5,1245.1 L527.0,1246.6 L528.5,1248.1 L530.0,1249.5 L531.5,1251.0 L533.0,1252.5 L534.5,1253.9 L536.0,1255.4 L537.5,1256.8 L539.0,1258.3 L540.5,1259.7 L542.0,1261.2 L543.5,1262.6 L545.0,1264.0 L546.5,1265.4 L548.0,1266.9 L549.5,1268.3 L551.0,1269.7 L552.5,1271.1 L554.0,1272.5 L555.5,1273.9 L557.0,1275.3 L558.5,1276.7 L560.0,1278.1 L561.5,1279.5 L563.0,1280.9 L564.5,1282.3 L566.0,1283.7 L567.5,1285.1 L569.0,1286.4 L570.5,1287.8 L572.0,1289.2 L573.5,1290.5 L575.0,1291.9 L576.5,1293.2 L578.0,1294.6 L579.5,1295.9 L581.0,1297.3 L582.5,1298.6 L584.0,1300.0 L585.5,1301.3 L587.0,1302.6 L588.5,1304.0 L590.0,1305.3 L591.5,1306.6 L593.0,1307.9 L594.5,1309.2 L596.0,1310.6 L597.5,1311.9 L599.0,1313.2 L600.5,1314.5 L602.0,1315.8 L603.5,1317.1 L605.0,1318.4 L606.5,1319.7 L608.0,1320.9 L609.5,1322.2 L611.0,1323.5 L612.5,1324.8 L614.0,1326.1 L615.5,1327.3 L617.0,1328.6 L618.5,1329.9 L620.0,1331.1 L621.5,1332.4 L623.0,1333.6 L624.5,1334.9 L626.0,1336.2 L627.5,1337.4 L629.0,1338.6 L630.5,1339.9 L632.0,1341.1 L633.5,1342.4 L635.0,1343.6 L636.5,1344.8 L638.0,1346.1 L639.5,1347.3 L641.0,1348.5 L642.5,1349.7 L644.0,1350.9 L645.5,1352.2 L647.0,1353.4 L648.5,1354.6 L650.0,1355.8 L651.5,1357.0 L653.0,1358.2 L654.5,1359.4 L656.0,1360.6 L657.5,1361.8 L659.0,1363.0 L660.5,1364.2 L662.0,1365.3 L663.5,1366.5 L665.0,1367.7 L666.5,1368.9 L668.0,1370.1 L669.5,1371.2 L671.0,1372.4 L672.5,1373.6 L674.0,1374.7 L675.5,1375.9 L677.0,1377.1 L678.5,1378.2 L680.0,1379.4 L681.5,1380.5 L683.0,1381.7 L684.5,1382.8 L686.0,1384.0 L687.5,1385.1 L689.0,1386.3 L690.5,1387.4 L692.0,1388.5 L693.5,1389.7 L695.0,1390.8 L696.5,1391.9 L698.0,1393.1 L699.5,1394.2 L701.0,1395.3 L702.5,1396.4 L704.0,1397.6 L705.5,1398.7 L707.0,1399.8 L708.5,1400.9 L710.0,1402.0 L711.5,1403.1 L713.0,1404.2 L714.5,1405.3 L716.0,1406.5 L717.5,1407.6 L719.0,1408.7 L720.5,1409.8 L722.0,1410.9 L723.5,1411.9 L725.0,1413.0 L726.5,1414.1 L728.0,1415.2 L729.5,1416.3 L731.0,1417.4 L732.5,1418.5 L734.0,1419.6 L735.5,1420.6 L737.0,1421.7 L738.5,1422.8 L740.0,1423.9 L741.5,1424.9 L743.0,1426.0 L744.5,1427.1 L746.0,1428.2 L747.5,1429.2 L749.0,1430.3 L750.5,1431.4 L752.0,1432.4 L753.5,1433.5 L755.0,1434.5 L756.5,1435.6 L758.0,1436.7 L759.5,1437.7 L761.0,1438.8 L762.5,1439.8 L764.0,1440.9 L765.5,1441.9 L767.0,1443.0 L768.5,1444.0 L770.0,1445.1 L771.5,1446.1 L773.0,1447.1 L774.5,1448.2" stroke="#a0a0a0" stroke-width="4.8" fill="none" stroke-linejoin="round"/>
<path d="M312.0,1022.0 L322.0,1027.0 L332.0,1034.0" stroke="#a0a0a0" stroke-width="4.6" fill="none" stroke-linecap="round" stroke-linejoin="round"/>
<path d="M347.8,1044.7 L358.9,1056.4" stroke="#a0a0a0" stroke-width="4.6" fill="none" stroke-linecap="round" stroke-linejoin="round"/>
<path d="M373.5,1071.7 L383.9,1082.8" stroke="#a0a0a0" stroke-width="4.6" fill="none" stroke-linecap="round" stroke-linejoin="round"/>
<path d="M399.5,1100.4 L411.2,1112.8" stroke="#a0a0a0" stroke-width="4.6" fill="none" stroke-linecap="round" stroke-linejoin="round"/>
<path d="M426.6,1128.6 L437.4,1139.5" stroke="#a0a0a0" stroke-width="4.6" fill="none" stroke-linecap="round" stroke-linejoin="round"/>
<path d="M456.5,1158.6 L469.4,1172.3" stroke="#a0a0a0" stroke-width="4.6" fill="none" stroke-linecap="round" stroke-linejoin="round"/>
<path d="M485.5,1187.6 L497.0,1198.3" stroke="#a0a0a0" stroke-width="4.6" fill="none" stroke-linecap="round" stroke-linejoin="round"/>
<path d="M511.6,1212.4 L521.6,1222.4" stroke="#a0a0a0" stroke-width="4.6" fill="none" stroke-linecap="round" stroke-linejoin="round"/>
<path d="M537.4,1236.5 L548.6,1246.5" stroke="#a0a0a0" stroke-width="4.6" fill="none" stroke-linecap="round" stroke-linejoin="round"/>
<path d="M565.2,1260.7 L576.4,1270.6" stroke="#a0a0a0" stroke-width="4.6" fill="none" stroke-linecap="round" stroke-linejoin="round"/>
<path d="M582.8,1276.6 L595.4,1287.0" stroke="#a0a0a0" stroke-width="4.6" fill="none" stroke-linecap="round" stroke-linejoin="round"/>
<path d="M610.7,1299.5 L622.4,1308.7" stroke="#a0a0a0" stroke-width="4.6" fill="none" stroke-linecap="round" stroke-linejoin="round"/>
<path d="M639.4,1322.4 L650.2,1330.7" stroke="#a0a0a0" stroke-width="4.6" fill="none" stroke-linecap="round" stroke-linejoin="round"/>
<path d="M666.5,1343.6 L679.4,1353.2" stroke="#a0a0a0" stroke-width="4.6" fill="none" stroke-linecap="round" stroke-linejoin="round"/>
<path d="M695.8,1365.4 L707.4,1373.3" stroke="#a0a0a0" stroke-width="4.6" fill="none" stroke-linecap="round" stroke-linejoin="round"/>
<path d="M725.7,1386.6 L736.5,1394.9" stroke="#a0a0a0" stroke-width="4.6" fill="none" stroke-linecap="round" stroke-linejoin="round"/>
<path d="M752.7,1406.5 L764.4,1414.8" stroke="#a0a0a0" stroke-width="4.6" fill="none" stroke-linecap="round" stroke-linejoin="round"/>
<path d="M311.0,1020.8 L341.6,1026.8 L397.0,1037.0 L480.2,1053.3 L560.0,1067.8 L626.5,1080.2 L693.1,1092.7 L774.6,1108.2" stroke="#000" stroke-width="5" fill="none" stroke-linejoin="round"/>
<line x1="335.2" y1="72" x2="335.2" y2="104" stroke="#000" stroke-width="2.2"/>
<polygon points="328,103 343,103 335.4,132" fill="#000"/>
<line x1="696.6" y1="108" x2="696.6" y2="140.5" stroke="#000" stroke-width="2.4"/>
<polygon points="689,108.6 704,108.6 696.5,80.5" fill="#000"/>
<line x1="308.8" y1="966" x2="308.8" y2="992" stroke="#000" stroke-width="2.2"/>
<polygon points="302,990.8 316,990.8 308.8,1019.5" fill="#000"/>
<g font-family="Liberation Sans, sans-serif" fill="#000"><text transform="translate(151,64.1) scale(1,1.035)" font-size="54" text-anchor="start" font-weight="400" >0.3</text>
<text transform="translate(151,434.4) scale(1,1.035)" font-size="54" text-anchor="start" font-weight="400" >0.2</text>
<text transform="translate(151,960.1) scale(1,1.035)" font-size="54" text-anchor="start" font-weight="400" >0.3</text>
<text transform="translate(151,1284.4) scale(1,1.035)" font-size="54" text-anchor="start" font-weight="400" >0.2</text>
<text transform="translate(151,805.4) scale(1,1.035)" font-size="54" text-anchor="start" font-weight="400" >0.</text>
<polygon points="214.4,765.9 217.1,765.9 217.1,804.9 212.1,804.9 212.1,774.7 202.1,779.9 202.1,776.2" fill="#000"/>
<text transform="translate(151,1610.4) scale(1,1.035)" font-size="54" text-anchor="start" font-weight="400" >0.</text>
<polygon points="214.4,1570.9 217.1,1570.9 217.1,1609.9 212.1,1609.9 212.1,1579.7 202.1,1584.9 202.1,1581.2" fill="#000"/>
<polygon points="341.3,853.9 344.0,853.9 344.0,892.9 339.0,892.9 339.0,862.7 329.0,867.9 329.0,864.2" fill="#000"/>
<polygon points="309.2,1750.9 311.9,1750.9 311.9,1789.9 306.9,1789.9 306.9,1759.7 296.9,1764.9 296.9,1761.2" fill="#000"/>
<text transform="translate(698,892.9) scale(1,1.035)" font-size="54" text-anchor="middle" font-weight="400" >2</text>
<text transform="translate(539.5,1789.9) scale(1,1.035)" font-size="54" text-anchor="middle" font-weight="400" >2</text>
<text transform="translate(772.5,1789.9) scale(1,1.035)" font-size="54" text-anchor="middle" font-weight="400" >3</text>
<text x="361.7" y="119.9" font-size="45.5" text-anchor="start" font-weight="400" >LED on</text>
<text x="733.2" y="132" font-size="46" text-anchor="start" font-weight="400" >LED off</text>
<text transform="translate(1354.9,116.8) scale(1,1.05)" font-size="56" text-anchor="start" font-weight="700" >A</text>
<text x="836.7" y="439.7" font-size="45.5" text-anchor="start" font-weight="400" >3 mg/mL BSA</text>
<text x="834.3" y="617.8" font-size="45.5" text-anchor="start" font-weight="400" >6 mg/mL BSA</text>
<text x="833.3" y="679.6" font-size="45.5" text-anchor="start" font-weight="400" >0.4 mM FFA</text>
<text x="827" y="803.7" font-size="45.5" text-anchor="start" font-weight="400" >0.4 mM FFA + 3 mg/mL BSA</text>
<text x="330.9" y="1006.9" font-size="45.5" text-anchor="start" font-weight="400" >LED on</text>
<text transform="translate(1359.9,1021.8) scale(1,1.05)" font-size="56" text-anchor="start" font-weight="700" >B</text>
<text x="784.6" y="1123.4" font-size="45.5" text-anchor="start" font-weight="400" >0.5 mM SOCL</text>
<text x="779.8" y="1421.9" font-size="45.5" text-anchor="start" font-weight="400" >0.5 mM SOCL + 3 mg/mL BSA</text>
<text x="783" y="1479.5" font-size="45.5" text-anchor="start" font-weight="400" >3 mg/mL BSA</text>
<text x="779.7" y="1635.9" font-size="45.5" text-anchor="start" font-weight="400" >0.5 mM SOCL + 6 mg/mL BSA</text>
<text x="784" y="1697.4" font-size="45.5" text-anchor="start" font-weight="400" >6 mg/mL BSA</text>
<text x="398.9" y="1865.9" font-size="51.4" text-anchor="start" font-weight="400" >Time (min)</text>
<text transform="translate(64.9,396.5) rotate(-90)" font-size="50" text-anchor="middle">[O<tspan font-size="31" dy="18.5">2</tspan><tspan dy="-18.5">] (mM)</tspan></text>
<text transform="translate(69.9,1282.7) rotate(-90)" font-size="50" text-anchor="middle">[O<tspan font-size="31" dy="18.5">2</tspan><tspan dy="-18.5">] (mM)</tspan></text></g>
</svg></body></html>
